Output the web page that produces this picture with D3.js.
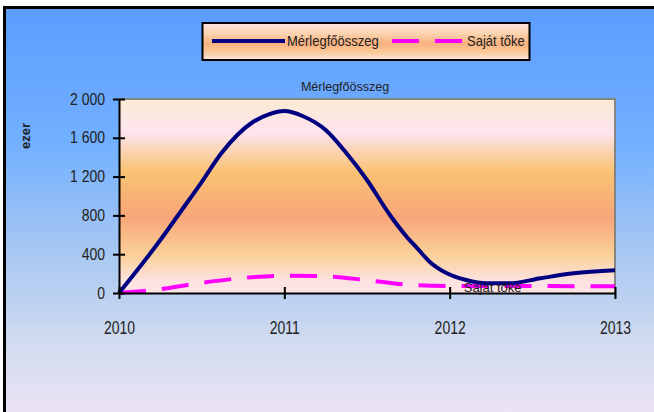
<!DOCTYPE html>
<html><head><meta charset="utf-8">
<script src="https://cdn.jsdelivr.net/npm/d3@7"></script>
<style>
html,body{margin:0;padding:0;background:#fff;}
svg{display:block;}
text{font-family:"Liberation Sans",Arial,sans-serif;fill:#222;}
</style></head>
<body>
<svg id="c" width="654" height="412"></svg>
<script>
// ---- data ----
const balanceYears = [2010.00, 2010.25, 2010.38, 2010.50, 2010.62, 2010.81, 2010.91, 2011.00, 2011.11, 2011.25, 2011.37, 2011.50, 2011.63, 2011.74, 2011.81, 2011.88, 2011.98, 2012.10, 2012.22, 2012.36, 2012.55, 2012.75, 2013.00];
const balanceValues = [0, 546, 856, 1144, 1443, 1763, 1845, 1876, 1825, 1680, 1454, 1165, 825, 580, 450, 320, 206, 134, 100, 100, 152, 203, 235];
const equityYears = [2010.00, 2010.25, 2010.50, 2010.75, 2011.00, 2011.25, 2011.50, 2011.75, 2012.00, 2012.25, 2012.50, 2012.75, 2013.00];
const equityValues = [0, 40, 105, 155, 178, 172, 132, 85, 72, 72, 72, 70, 70];
const seriesNames = ["Mérlegfőösszeg", "Saját tőke"];
const xTickValues = [2010, 2011, 2012, 2013];
const yTickValues = [0, 400, 800, 1200, 1600, 2000];
const chartTitle = "Mérlegfőösszeg";
const yAxisTitle = "ezer";

// ---- setup ----
const svg = d3.select("#c");
const defs = svg.append("defs");
function grad(id, stops){
  const g = defs.append("linearGradient").attr("id", id).attr("x1",0).attr("y1",0).attr("x2",0).attr("y2",1);
  stops.forEach(s => g.append("stop").attr("offset", s[0]).attr("stop-color", s[1]));
}
grad("bgGrad", [[0,"#5c9cfe"],[0.3,"#72b0ff"],[0.55,"#a9c8f2"],[0.75,"#d2dbef"],[1,"#fce9f8"]]);
grad("plotGrad", [[0,"#fbead2"],[0.17,"#fde4ef"],[0.375,"#f9c273"],[0.61,"#f8a679"],[0.8,"#fad097"],[0.94,"#fde2e1"],[1,"#fde4e6"]]);
grad("legGrad", [[0,"#fde7e6"],[0.3,"#fbd2ad"],[0.55,"#f9b07e"],[0.8,"#fbcb9c"],[1,"#fde8e4"]]);

svg.append("rect").attr("x",4.5).attr("y",7.5).attr("width",700).attr("height",450)
  .attr("fill","url(#bgGrad)").attr("stroke","#000").attr("stroke-width",3);

const m = {l:119, r:615, t:99, b:293};
const x = d3.scaleLinear().domain([2010,2013]).range([m.l, m.r]);
const y = d3.scaleLinear().domain([0,2000]).range([m.b, m.t]);

// plot area
svg.append("rect").attr("x",m.l).attr("y",m.t).attr("width",m.r-m.l).attr("height",m.b-m.t)
  .attr("fill","url(#plotGrad)");
svg.append("path").attr("d",`M${m.l},${m.t}H${m.r}V${m.b}`).attr("fill","none")
  .attr("stroke","#858585").attr("stroke-width",2);

// title
svg.append("text").attr("x",345).attr("y",91).attr("text-anchor","middle")
  .style("font-size","12.5px").text(chartTitle);

// lines
const balance = balanceYears.map((d,i)=>({x:d,v:balanceValues[i]}));
const equity = equityYears.map((d,i)=>({x:d,v:equityValues[i]}));
const line = d3.line().x(d=>x(d.x)).y(d=>y(d.v)).curve(d3.curveMonotoneX);
svg.append("path").datum(equity).attr("d",line).attr("fill","none")
  .attr("stroke","#ff00ff").attr("stroke-width",4).attr("stroke-dasharray","27,16");
svg.append("path").datum(balance).attr("d",line).attr("fill","none")
  .attr("stroke","#000080").attr("stroke-width",4).attr("stroke-linejoin","round");

// axes
const loc = d3.formatLocale({decimal:",", thousands:"\u00a0", grouping:[3], currency:["",""]});
const fmt = loc.format(",d");
const yAxis = d3.axisLeft(y).tickValues(yTickValues).tickFormat(fmt).tickSizeInner(6).tickSizeOuter(0);
const gy = svg.append("g").attr("transform",`translate(${m.l},0)`).call(yAxis);
gy.select(".domain").attr("stroke","#000").attr("stroke-width",2);
gy.selectAll(".tick line").attr("stroke","#000").attr("stroke-width",2).attr("x2",6).attr("x1",-6);
gy.selectAll(".tick text").attr("x",null).attr("dy",null)
  .attr("transform","translate(-14,5) scale(1,1.22)").style("font-size","14px");

const xAxis = d3.axisBottom(x).tickValues(xTickValues).tickFormat(d3.format("d")).tickSizeInner(6).tickSizeOuter(0);
const gx = svg.append("g").attr("transform",`translate(0,${m.b})`).call(xAxis);
gx.select(".domain").attr("stroke","#000").attr("stroke-width",2);
gx.selectAll(".tick line").attr("stroke","#000").attr("stroke-width",2).attr("y1",-6).attr("y2",6);
gx.selectAll(".tick text").attr("y",null).attr("dy",null)
  .attr("transform","translate(0,41) scale(1,1.3)").style("font-size","14px");
svg.selectAll(".tick text").attr("fill","#222").style("font-family","\"Liberation Sans\",Arial,sans-serif");

// y title
svg.append("text").attr("transform","translate(30,136) rotate(-90)").attr("text-anchor","middle")
  .style("font-size","13px").style("font-weight","bold").text(yAxisTitle);

// data label
svg.append("text").attr("x",x(2012.085)).attr("y",y(0)-1).style("font-size","13px").text(seriesNames[1]);

// legend
const lg = svg.append("g");
lg.append("rect").attr("x",202.5).attr("y",23).attr("width",327).attr("height",37)
  .attr("fill","url(#legGrad)").attr("stroke","#000").attr("stroke-width",2);
lg.append("line").attr("x1",212).attr("x2",285).attr("y1",41).attr("y2",41).attr("stroke","#000080").attr("stroke-width",4);
lg.append("text").attr("x",287).attr("y",46).attr("transform","translate(287,46) scale(1,1.15) translate(-287,-46)").style("font-size","13px").text(seriesNames[0]);
lg.append("line").attr("x1",392).attr("x2",463).attr("y1",41).attr("y2",41).attr("stroke","#ff00ff").attr("stroke-width",4).attr("stroke-dasharray","27,16");
lg.append("text").attr("x",467).attr("y",46).attr("transform","translate(467,46) scale(1,1.15) translate(-467,-46)").style("font-size","13px").text(seriesNames[1]);
</script>
</body></html>
